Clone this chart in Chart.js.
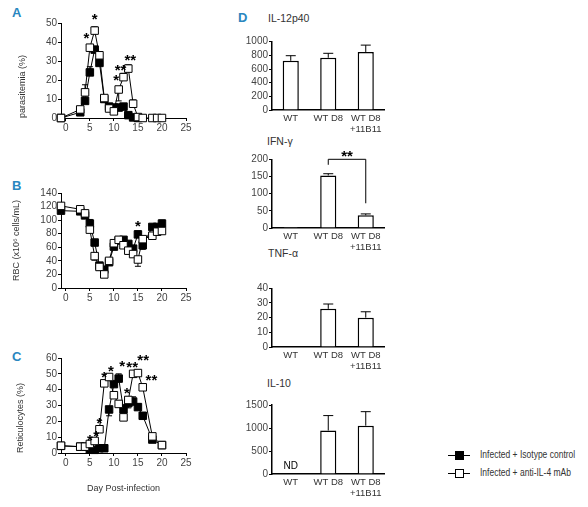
<!DOCTYPE html>
<html>
<head>
<meta charset="utf-8">
<script src="https://cdn.jsdelivr.net/npm/chart.js@4.4.1/dist/chart.umd.min.js"></script>
<style>
  body { margin: 0; width: 588px; height: 507px; position: relative; overflow: hidden; background: #fff;
         font-family: 'Liberation Sans', Arial, sans-serif; }
  canvas { position: absolute; }
  .letter { position: absolute; font-size: 13px; line-height: 16px; font-weight: bold; color: #2a87bf; }
  .ttl { position: absolute; font-size: 10.5px; line-height: 14px; color: #333; white-space: nowrap; }
  .leg-line { position: absolute; width: 22px; height: 1px; background: #000; }
  .leg-sq { position: absolute; width: 7px; height: 7px; border: 1px solid #000; background: #fff; }
  .leg-sq.fill { background: #000; }
  .leg-tx { position: absolute; font-size: 10px; line-height: 12px; color: #333; white-space: nowrap;
            transform: scaleX(0.85); transform-origin: left center; }
</style>
</head>
<body>
<div class="letter" style="left:12px;top:5px">A</div>
<div class="letter" style="left:12px;top:178px">B</div>
<div class="letter" style="left:12px;top:349px">C</div>
<div class="letter" style="left:238px;top:10px">D</div>

<div class="ttl" style="left:268px;top:11px">IL-12p40</div>
<div class="ttl" style="left:267px;top:134px">IFN-γ</div>
<div class="ttl" style="left:268px;top:246px">TNF-α</div>
<div class="ttl" style="left:267px;top:376px">IL-10</div>

<canvas id="chartA" width="200" height="136" style="left:0;top:0"></canvas>
<canvas id="chartB" width="200" height="136" style="left:0;top:170px"></canvas>
<canvas id="chartC" width="200" height="158" style="left:0;top:340px"></canvas>
<canvas id="chartIL12" width="175" height="111" style="left:220px;top:25px"></canvas>
<canvas id="chartIFN" width="175" height="109" style="left:220px;top:145px"></canvas>
<canvas id="chartTNF" width="175" height="103" style="left:220px;top:270px"></canvas>
<canvas id="chartIL10" width="175" height="110" style="left:220px;top:390px"></canvas>

<div class="leg-line" style="left:448px;top:455px"></div>
<div class="leg-sq fill" style="left:455px;top:451px"></div>
<div class="leg-tx" style="left:480px;top:449px">Infected + Isotype control</div>
<div class="leg-line" style="left:448px;top:473px"></div>
<div class="leg-sq" style="left:455px;top:469px"></div>
<div class="leg-tx" style="left:480px;top:467px">Infected + anti-IL-4 mAb</div>

<script>
// ----- Data -----
const dayTicks = [0, 5, 10, 15, 20, 25];

// A: parasitemia (%)
const paraDays = [-1, 3, 4, 5, 6, 7, 8, 9, 10, 11, 12, 13, 14, 15, 16, 18, 19, 20];
const paraAnti = [0, 4.5, 13.5, 37, 46, 33, 10.5, 5, 3.5, 15, 21.5, 26, 7.5, 0.5, 0, 0, 0, 0];
const paraAntiErr = [0, 0, 4, 1.5, 2, 2, 0, 0, 0, -6, 2, 2, 2, 0, 0, 0, 0, 0]; // + up, - down
const paraIsoDays = [-1, 3, 4, 5, 6, 7, 8, 9, 10, 11, 12, 13, 14, 15];
const paraIso = [0, 3, 9, 24, 36, 29, 10, 6, 5.5, 5.5, 6, 1.5, 0.3, 0];
const paraIsoErr = [0, 0, 2, 3, 0, 6, 0, 0, 0, 0.5, 0.5, 0, 0, 0];
const paraTicks = [0, 10, 20, 30, 40, 50];
const paraStarX = [4.3, 6, 10.5, 11.4, 13.4];
const paraStarY = [43.5, 54, 21.5, 27, 32];
const paraStarText = ['*', '*', '*', '**', '**'];

// B: RBC (x10^6 cells/mL)
const rbcDays = [-1, 3, 4, 5, 6, 7, 8, 9, 10, 11, 12, 13, 14, 15, 16, 18, 19, 20];
const rbcAnti = [121, 116, 110, 86, 47, 31, 20, 40, 66, 71, 63, 55, 50, 42, 72, 77, 83, 84];
const rbcAntiErr = [0, 0, 0, 4, -6, -5, -3, 0, 0, 0, 0, 0, -4, -10, 0, -5, -5, -4];
const rbcIso = [114, 113, 107, 95, 67, 33, 27, 38, 61, 70, 71, 65, 58, 79, 63, 90, 90, 95];
const rbcIsoErr = [0, 0, 0, 6, 4, 3, 3, 0, 4, 3, 3, 0, 4, 5, -6, 3, 4, 5];
const rbcTicks = [0, 20, 40, 60, 80, 100, 120, 140];
const rbcStarX = [15];
const rbcStarY = [96];
const rbcStarText = ['*'];

// C: reticulocytes (%)
const retDays = [-1, 3, 4, 5, 6, 7, 8, 9, 10, 11, 12, 13, 14, 15, 16, 18, 20];
const retAnti = [4.6, 4, 4, 5.7, 7.6, 15, 44, 48, 36.5, 31, 22.5, 33.5, 50, 50.5, 41.5, 10.5, 5];
const retAntiErr = [0, 0, 0, 1.5, 1.5, 1.5, 1, 1, 2, 2, -2, 2, 0.5, 2, 2, 1, 0];
const retIso = [4.5, 4, 4, 2.3, 2, 3, 3, 27.5, 43.5, 47, 27.5, 31.5, 32.5, 29, 23.5, 8.5, 5];
const retIsoErr = [0, 0, 0, 1, 1, 1, 1, -4, 0, 3, 3, -3, 3, 2, 2, 0, 0];
const retTicks = [0, 10, 20, 30, 40, 50, 60];
const retStarX = [5, 6.3, 7, 8, 9.4, 11.7, 12.7, 13.8, 16.1, 17.8];
const retStarY = [10, 13, 21, 50, 54, 57, 40, 56, 61, 48];
const retStarText = ['*', '*', '*', '*', '*', '*', '*', '**', '**', '**'];

// D: cytokines
const groups = ['WT', 'WT D8', ['WT D8', '+11B11']];
const il12Vals = [720, 765, 850];
const il12Err = [75, 65, 100];
const il12Ticks = [0, 200, 400, 600, 800, 1000];
const ifnVals = [3, 153, 37];
const ifnErr = [0, 5, 4];
const ifnTicks = [0, 50, 100, 150, 200];
const tnfVals = [0.5, 26, 20];
const tnfErr = [0, 3.3, 4];
const tnfTicks = [0, 10, 20, 30, 40];
const il10Vals = [0, 945, 1050];
const il10Err = [0, 325, 305];
const il10Ticks = [0, 500, 1000, 1500];

// ----- Setup -----
const fontFamily = "'Liberation Sans', Arial, sans-serif";
Chart.defaults.font.family = fontFamily;
Chart.defaults.font.size = 10;
Chart.defaults.color = '#444';
Chart.defaults.animation = false;
Chart.defaults.plugins.legend.display = false;
Chart.defaults.plugins.tooltip.enabled = false;

// error bars, drawn under the points; positive = up, negative = down
const errorBars = {
  id: 'errorBars',
  beforeDatasetsDraw(chart) {
    const ctx = chart.ctx;
    const yScale = chart.scales.y;
    chart.data.datasets.forEach((ds, i) => {
      if (!ds.errors) return;
      const meta = chart.getDatasetMeta(i);
      const cap = ds.capWidth || 3;
      ctx.save();
      ctx.strokeStyle = '#000';
      ctx.lineWidth = 1;
      meta.data.forEach((el, j) => {
        const e = ds.errors[j];
        if (!e) return;
        const v = ds.data[j];
        const val = typeof v === 'object' ? v.y : v;
        const py = yScale.getPixelForValue(val + e);
        ctx.beginPath();
        ctx.moveTo(el.x, el.y);
        ctx.lineTo(el.x, py);
        ctx.moveTo(el.x - cap, py);
        ctx.lineTo(el.x + cap, py);
        ctx.stroke();
      });
      ctx.restore();
    });
  }
};

function textMarks(xs, ys, texts, fontCss, dy) {
  return {
    id: 'textMarks',
    afterDatasetsDraw(chart) {
      const ctx = chart.ctx;
      ctx.save();
      ctx.font = fontCss;
      ctx.fillStyle = '#000';
      ctx.textAlign = 'center';
      ctx.textBaseline = 'middle';
      xs.forEach((xv, i) => {
        ctx.fillText(texts[i], chart.scales.x.getPixelForValue(xv), chart.scales.y.getPixelForValue(ys[i]) + dy);
      });
      ctx.restore();
    }
  };
}

function toPoints(days, vals) {
  return days.map((d, i) => ({ x: d, y: vals[i] }));
}

function lineChart(id, cfg) {
  new Chart(document.getElementById(id), {
    type: 'line',
    data: {
      datasets: [
        {
          // anti-IL-4 (open squares) on top
          data: toPoints(cfg.antiDays, cfg.anti),
          errors: cfg.antiErr,
          borderColor: '#000', borderWidth: 1,
          pointStyle: 'rect', pointRadius: 5.3,
          pointBackgroundColor: '#fff', pointBorderColor: '#000', pointBorderWidth: 1,
          clip: false, order: 0
        },
        {
          data: toPoints(cfg.isoDays, cfg.iso),
          errors: cfg.isoErr,
          borderColor: '#000', borderWidth: 1,
          pointStyle: 'rect', pointRadius: 5.3,
          pointBackgroundColor: '#000', pointBorderColor: '#000', pointBorderWidth: 1,
          clip: false, order: 1
        }
      ]
    },
    options: {
      responsive: false,
      devicePixelRatio: 1,
      layout: { padding: { top: cfg.padTop, right: 14, left: 0, bottom: 0 } },
      scales: {
        x: {
          type: 'linear', min: -1, max: 25,
          afterBuildTicks: s => { s.ticks = dayTicks.map(v => ({ value: v })); },
          afterFit: s => { s.height = cfg.xHeight; },
          grid: { drawOnChartArea: false, drawTicks: true, tickLength: 3, color: '#000' },
          border: { display: true, color: '#000', width: 1 },
          ticks: { padding: 1, autoSkip: false, maxRotation: 0, font: { size: 10 } },
          title: cfg.xTitle
            ? { display: true, text: cfg.xTitle, color: '#333', font: { size: 9 }, padding: { top: 0, bottom: 4 } }
            : { display: false }
        },
        y: {
          type: 'linear', min: 0, max: cfg.yTicks[cfg.yTicks.length - 1],
          afterBuildTicks: s => { s.ticks = cfg.yTicks.map(v => ({ value: v })); },
          afterFit: s => { s.width = 61; },
          grid: { drawOnChartArea: false, drawTicks: true, tickLength: 3, color: '#000' },
          border: { display: true, color: '#000', width: 1 },
          ticks: { padding: 1, autoSkip: false, font: { size: 10 } },
          title: { display: true, text: cfg.yTitle, color: '#333', font: { size: 9 },
                   align: cfg.yAlign, padding: { top: cfg.yTitlePad, bottom: 0 } }
        }
      }
    },
    plugins: [errorBars, textMarks(cfg.starX, cfg.starY, cfg.starText, 'bold 15px ' + fontFamily, 4)]
  });
}

function barChart(id, cfg) {
  const extra = cfg.extraPlugins || [];
  new Chart(document.getElementById(id), {
    type: 'bar',
    data: {
      labels: groups,
      datasets: [{
        data: cfg.vals,
        errors: cfg.err,
        capWidth: 5,
        backgroundColor: '#fff', borderColor: '#000', borderWidth: 1.5,
        barPercentage: 0.43, categoryPercentage: 1
      }]
    },
    options: {
      responsive: false,
      devicePixelRatio: 1,
      layout: { padding: { top: cfg.padTop, right: 10.5, left: 0, bottom: 0 } },
      scales: {
        x: {
          afterFit: s => { s.height = 26; },
          grid: { display: false, drawTicks: false },
          border: { display: true, color: '#000', width: 1.5 },
          ticks: { padding: 3, autoSkip: false, maxRotation: 0, minRotation: 0,
                   font: { size: 9.5, lineHeight: 1.15 }, color: '#333' }
        },
        y: {
          min: 0, max: cfg.ticks[cfg.ticks.length - 1],
          afterBuildTicks: s => { s.ticks = cfg.ticks.map(v => ({ value: v })); },
          afterFit: s => { s.width = 52; },
          grid: { drawOnChartArea: false, drawTicks: true, tickLength: 3, color: '#000' },
          border: { display: true, color: '#000', width: 1.5 },
          ticks: { padding: 1, autoSkip: false, font: { size: 10 }, callback: v => String(v) }
        }
      }
    },
    plugins: [errorBars].concat(extra)
  });
}

// ----- Panels -----
lineChart('chartA', {
  antiDays: paraDays, anti: paraAnti, antiErr: paraAntiErr,
  isoDays: paraIsoDays, iso: paraIso, isoErr: paraIsoErr,
  yTicks: paraTicks, yTitle: 'parasitemia (%)', yAlign: 'start', yTitlePad: 17,
  padTop: 23, xHeight: 18,
  starX: paraStarX, starY: paraStarY, starText: paraStarText
});

lineChart('chartB', {
  antiDays: rbcDays, anti: rbcAnti, antiErr: rbcAntiErr,
  isoDays: rbcDays, iso: rbcIso, isoErr: rbcIsoErr,
  yTicks: rbcTicks, yTitle: 'RBC (x10⁶ cells/mL)', yAlign: 'center', yTitlePad: 11,
  padTop: 23, xHeight: 18,
  starX: rbcStarX, starY: rbcStarY, starText: rbcStarText
});

lineChart('chartC', {
  antiDays: retDays, anti: retAnti, antiErr: retAntiErr,
  isoDays: retDays, iso: retIso, isoErr: retIsoErr,
  yTicks: retTicks, yTitle: 'Reticulocytes (%)', yAlign: 'start', yTitlePad: 15,
  padTop: 18, xHeight: 45, xTitle: 'Day Post-infection',
  starX: retStarX, starY: retStarY, starText: retStarText
});

barChart('chartIL12', { vals: il12Vals, err: il12Err, ticks: il12Ticks, padTop: 16.7 });

// significance bracket between WT D8 and WT D8 +11B11
const ifnBracket = {
  id: 'bracket',
  afterDatasetsDraw(chart) {
    const ctx = chart.ctx;
    const x = chart.scales.x, y = chart.scales.y;
    const x1 = x.getPixelForValue(1), x2 = x.getPixelForValue(2);
    ctx.save();
    ctx.strokeStyle = '#000';
    ctx.lineWidth = 1;
    ctx.beginPath();
    ctx.moveTo(x1, y.getPixelForValue(184));
    ctx.lineTo(x1, y.getPixelForValue(200));
    ctx.lineTo(x2, y.getPixelForValue(200));
    ctx.lineTo(x2, y.getPixelForValue(72));
    ctx.stroke();
    ctx.restore();
  }
};
barChart('chartIFN', {
  vals: ifnVals, err: ifnErr, ticks: ifnTicks, padTop: 14.3,
  extraPlugins: [ifnBracket, textMarks([1.5], [218], ['**'], 'bold 15px ' + fontFamily, 4)]
});

barChart('chartTNF', { vals: tnfVals, err: tnfErr, ticks: tnfTicks, padTop: 18.3 });

barChart('chartIL10', {
  vals: il10Vals, err: il10Err, ticks: il10Ticks, padTop: 15,
  extraPlugins: [textMarks([0], [158], ['ND'], '10px ' + fontFamily, 0)]
});
</script>
</body>
</html>
